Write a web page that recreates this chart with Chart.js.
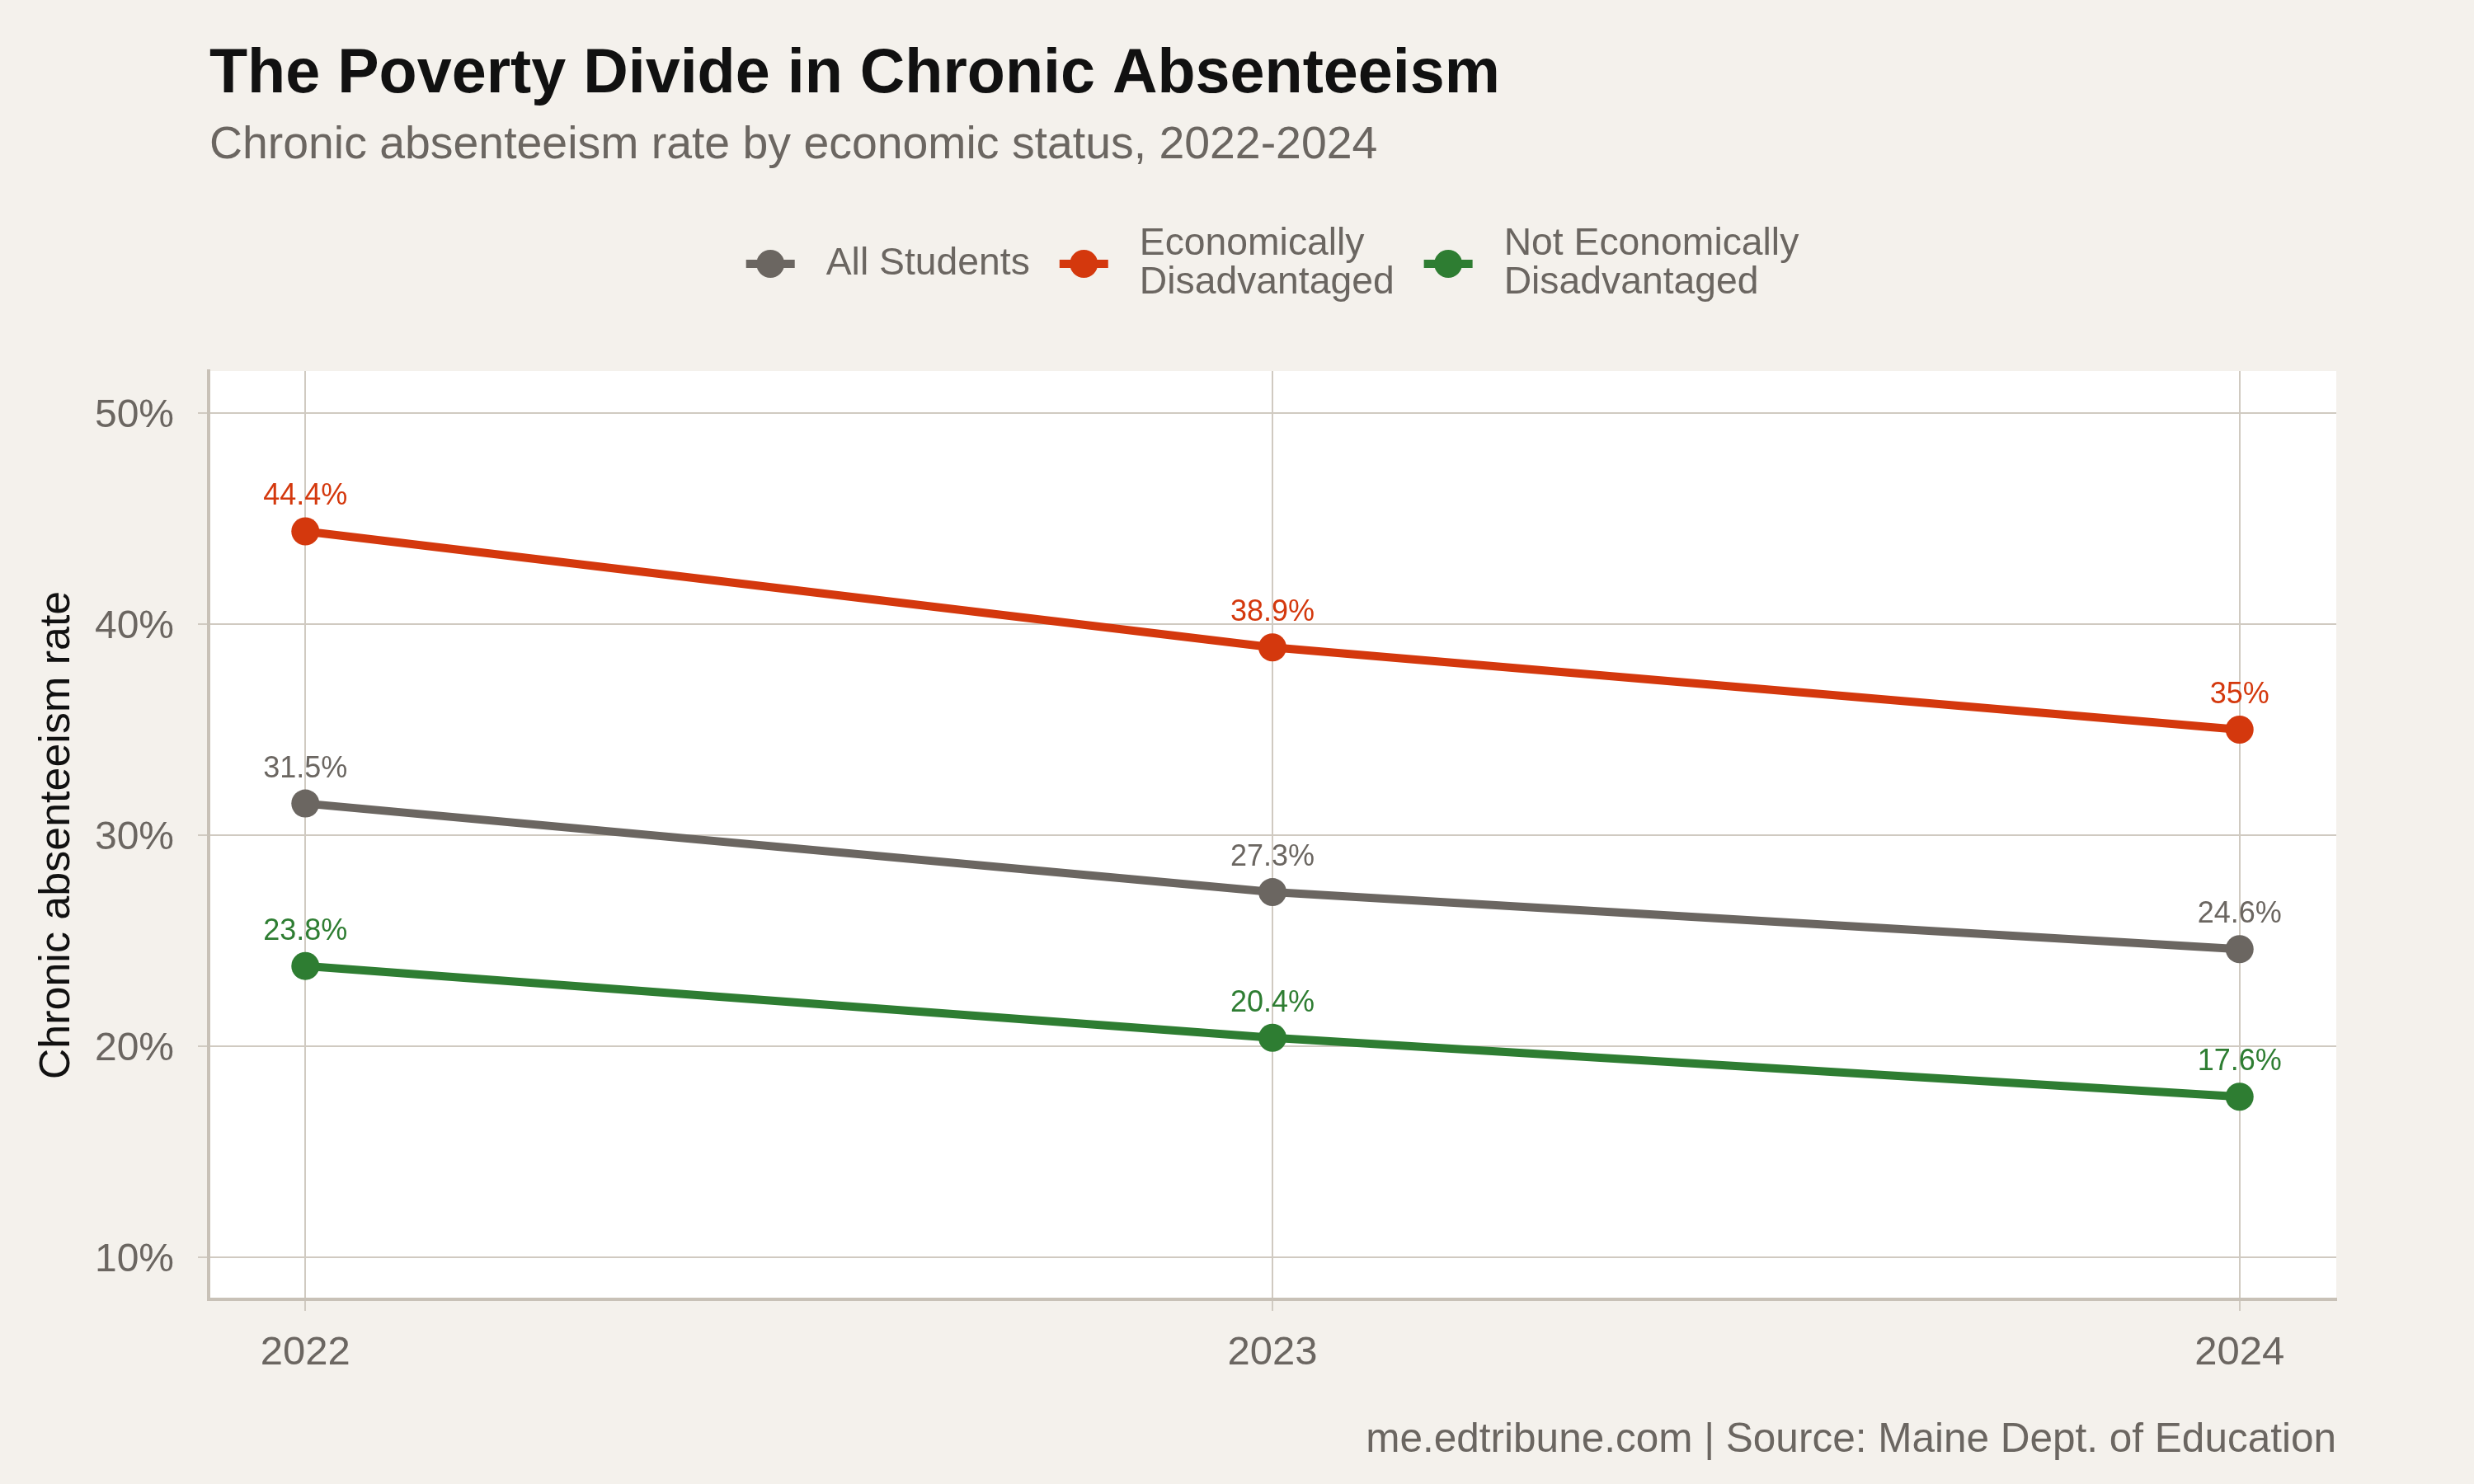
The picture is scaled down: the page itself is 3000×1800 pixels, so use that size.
<!DOCTYPE html>
<html><head><meta charset="utf-8">
<script src="https://cdn.jsdelivr.net/npm/chart.js@4.4.1/dist/chart.umd.min.js"></script>
<style>html,body{margin:0;padding:0;background:#f4f1ec;}#wrap{width:3000px;height:1800px;}</style>
</head><body><div id="wrap"><canvas id="c" width="3000" height="1800"></canvas></div>
<script>
// ---- data ----
const years = [2022, 2023, 2024];
const seriesLabels = [["All Students"], ["Economically", "Disadvantaged"], ["Not Economically", "Disadvantaged"]];
const allStudents = [31.5, 27.3, 24.6];
const econDisadvantaged = [44.4, 38.9, 35.0];
const notEconDisadvantaged = [23.8, 20.4, 17.6];
const yTickValues = [10, 20, 30, 40, 50];
const xTickValues = [2022, 2023, 2024];
const titleText = "The Poverty Divide in Chronic Absenteeism";
const subtitleText = "Chronic absenteeism rate by economic status, 2022-2024";
const captionText = "me.edtribune.com | Source: Maine Dept. of Education";
const yTitleText = "Chronic absenteeism rate";

// ---- styles ----
const colors = ['#6b6661', '#d4380d', '#2e7d32'];
const FONT = "'Liberation Sans', Arial, Helvetica, sans-serif";
const BG = '#f4f1ec';
const GRID = '#d0cac1';
const AXIS = '#c8c1b7';
const TEXT_GRAY = '#6b6661';

const seriesValues = [allStudents, econDisadvantaged, notEconDisadvantaged];
const datasets = seriesValues.map((vals, i) => ({
  label: seriesLabels[i].join(' '),
  data: years.map((y, j) => ({x: y, y: vals[j]})),
  borderColor: colors[i],
  backgroundColor: colors[i],
  pointBackgroundColor: colors[i],
  pointBorderWidth: 0,
  pointRadius: 17,
  pointHoverRadius: 17,
  borderWidth: 10,
  tension: 0,
  clip: false
}));

const bgPlugin = {
  id: 'bg',
  beforeDraw(chart) {
    const {ctx, chartArea: a} = chart;
    ctx.save();
    ctx.fillStyle = BG;
    ctx.fillRect(0, 0, chart.width, chart.height);
    ctx.fillStyle = '#ffffff';
    ctx.fillRect(a.left, a.top, a.right - a.left, a.bottom - a.top);
    ctx.restore();
  }
};

const labelPlugin = {
  id: 'pointLabels',
  afterDatasetsDraw(chart) {
    const ctx = chart.ctx;
    ctx.save();
    ctx.font = `36px ${FONT}`;
    ctx.textAlign = 'center';
    ctx.textBaseline = 'alphabetic';
    chart.data.datasets.forEach((ds, i) => {
      const meta = chart.getDatasetMeta(i);
      ctx.fillStyle = colors[i];
      meta.data.forEach((pt, j) => {
        const v = seriesValues[i][j];
        ctx.fillText(String(v) + '%', pt.x, pt.y - 32);
      });
    });
    ctx.restore();
  }
};

const textPlugin = {
  id: 'texts',
  afterDraw(chart) {
    const ctx = chart.ctx;
    const a = chart.chartArea;
    ctx.save();
    // title
    ctx.textAlign = 'left';
    ctx.textBaseline = 'alphabetic';
    ctx.fillStyle = '#111111';
    ctx.font = `bold 75.5px ${FONT}`;
    ctx.fillText(titleText, 254, 112);
    ctx.fillStyle = TEXT_GRAY;
    ctx.font = `55.4px ${FONT}`;
    ctx.fillText(subtitleText, 254, 192);
    // caption
    ctx.textAlign = 'right';
    ctx.font = `49.5px ${FONT}`;
    ctx.fillText(captionText, a.right, 1761);
    // legend
    ctx.font = `46.3px ${FONT}`;
    ctx.textAlign = 'left';
    ctx.textBaseline = 'middle';
    const keyW = 59, keyGap = 38, itemGap = 36, lineH = 47, cy = 320;
    const widths = seriesLabels.map(lines => Math.max(...lines.map(l => ctx.measureText(l).width)));
    let total = 0;
    widths.forEach((w, i) => { total += keyW + keyGap + w + (i < widths.length - 1 ? itemGap : 0); });
    let x = (a.left + a.right) / 2 - total / 2;
    seriesLabels.forEach((lines, i) => {
      ctx.strokeStyle = colors[i];
      ctx.lineWidth = 10;
      ctx.beginPath();
      ctx.moveTo(x, cy); ctx.lineTo(x + keyW, cy); ctx.stroke();
      ctx.fillStyle = colors[i];
      ctx.beginPath();
      ctx.arc(x + keyW / 2, cy, 17, 0, Math.PI * 2); ctx.fill();
      const tx = x + keyW + keyGap;
      ctx.fillStyle = TEXT_GRAY;
      const n = lines.length;
      lines.forEach((l, k) => {
        ctx.fillText(l, tx, cy + (k - (n - 1) / 2) * lineH);
      });
      x = tx + widths[i] + itemGap;
    });
    ctx.restore();
  }
};

new Chart(document.getElementById('c'), {
  type: 'line',
  data: { datasets },
  plugins: [bgPlugin, labelPlugin, textPlugin],
  options: {
    responsive: false,
    devicePixelRatio: 1,
    animation: false,
    layout: { padding: { left: 0, top: 450, right: 167, bottom: 0 } },
    plugins: { legend: { display: false }, title: { display: false }, tooltip: { enabled: false } },
    scales: {
      x: {
        type: 'linear',
        min: 2021.9, max: 2024.1,
        afterFit(s) { s.height = 224; },
        afterBuildTicks(s) { s.ticks = xTickValues.map(v => ({value: v})); },
        grid: { color: GRID, lineWidth: 2, tickLength: 14, drawTicks: true },
        border: { display: true, color: AXIS, width: 4 },
        ticks: { color: TEXT_GRAY, font: { family: FONT, size: 49 }, padding: 22, maxRotation: 0, autoSkip: false,
          callback: v => String(v) }
      },
      y: {
        type: 'linear',
        min: 8, max: 52,
        afterFit(s) { s.width = 253; },
        afterBuildTicks(s) { s.ticks = yTickValues.map(v => ({value: v})); },
        grid: { color: GRID, lineWidth: 2, tickLength: 13, drawTicks: true },
        border: { display: true, color: AXIS, width: 4 },
        ticks: { color: TEXT_GRAY, font: { family: FONT, size: 48 }, padding: 29, labelOffset: 4, callback: v => v + '%' },
        title: { display: true, text: yTitleText, color: '#111111', font: { family: FONT, size: 52 }, padding: { top: 38, bottom: 0 } }
      }
    }
  }
});
</script></body></html>
